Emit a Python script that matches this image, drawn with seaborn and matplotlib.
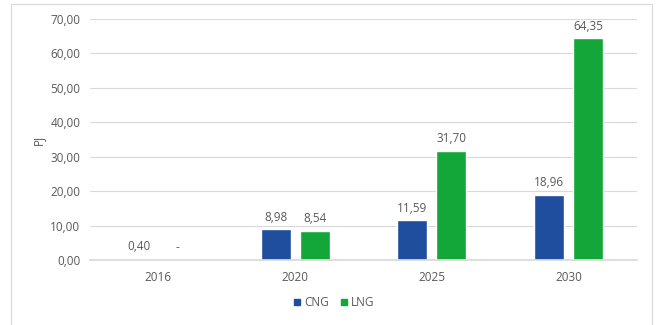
import matplotlib
matplotlib.use("Agg")
import matplotlib.pyplot as plt
import seaborn as sns
import pandas as pd
from matplotlib.lines import Line2D

years = ["2016", "2020", "2025", "2030"]
cng = [0.40, 8.98, 11.59, 18.96]
lng = [0.0, 8.54, 31.70, 64.35]
series = ["CNG", "LNG"]
colors = ["#1F4E9F", "#13A638"]
yticks = [0, 10, 20, 30, 40, 50, 60, 70]

df = pd.DataFrame({
    "year": years * 2,
    "value": cng + lng,
    "series": ["CNG"] * len(years) + ["LNG"] * len(years),
})

sns.set_theme(style="white")
plt.rcParams["font.family"] = ["Open Sans", "DejaVu Sans"]

fig = plt.figure(figsize=(6.56, 3.25), dpi=100)
ax = fig.add_axes([90 / 656, 1 - 260 / 325, 547 / 656, 241 / 325])

sns.barplot(data=df, x="year", y="value", hue="series", order=years,
            hue_order=series, palette=colors, width=0.57, gap=0.23,
            saturation=1, ax=ax, legend=False)

txt = "#595959"
fs = 8.5
for cont, vals in zip(ax.containers, [cng, lng]):
    labels = [("-" if v == 0 else f"{v:.2f}".replace(".", ",")) for v in vals]
    ax.bar_label(cont, labels=labels, padding=4, fontsize=fs, color=txt)

ax.set_ylim(0, 70)
ax.set_yticks(yticks)
ax.set_yticklabels([f"{v:.2f}".replace(".", ",") for v in yticks])
ax.yaxis.grid(True, color="#D9D9D9", linewidth=0.8)
ax.set_axisbelow(True)
for s in ["top", "right", "left"]:
    ax.spines[s].set_visible(False)
ax.spines["bottom"].set_color("#D9D9D9")
ax.tick_params(axis="both", length=0, labelsize=fs, colors=txt)
ax.tick_params(axis="y", pad=7)
ax.tick_params(axis="x", pad=8)
ax.set_xlabel("")
ax.set_ylabel("PJ", fontsize=fs, color=txt, labelpad=4)

handles = [Line2D([0], [0], marker="s", linestyle="", markersize=5,
                  markerfacecolor=c, markeredgecolor=c) for c in colors]
fig.legend(handles, series, loc="center", bbox_to_anchor=(333 / 656, 1 - 303 / 325),
           ncol=2, frameon=False, fontsize=fs, labelcolor=txt,
           handletextpad=0.1, columnspacing=0.8, handlelength=1.0)

# figure border
border = "#D9D9D9"
fig.add_artist(Line2D([11 / 656, 11 / 656], [0, 1 - 4 / 325], transform=fig.transFigure, color=border, lw=0.8))
fig.add_artist(Line2D([652 / 656, 652 / 656], [0, 1 - 4 / 325], transform=fig.transFigure, color=border, lw=0.8))
fig.add_artist(Line2D([11 / 656, 652 / 656], [1 - 4 / 325, 1 - 4 / 325], transform=fig.transFigure, color=border, lw=0.8))

fig.savefig("out.png", dpi=100)
